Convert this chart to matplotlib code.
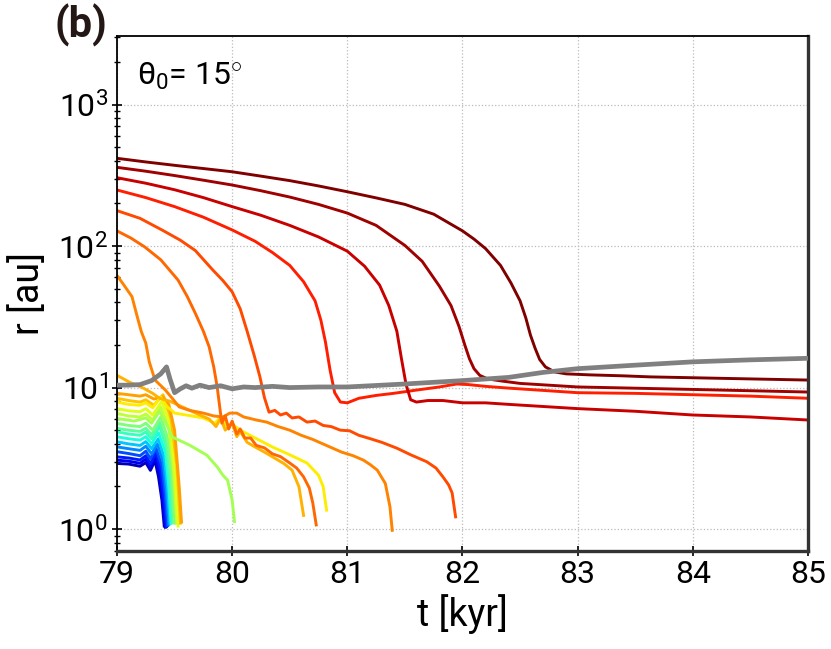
import matplotlib

matplotlib.use("Agg")
import matplotlib.pyplot as plt
import numpy as np

plt.rcParams["font.family"] = ["Roboto", "DejaVu Sans"]
plt.rcParams["mathtext.fontset"] = "custom"
plt.rcParams["mathtext.rm"] = "Roboto"
plt.rcParams["mathtext.it"] = "Roboto"
plt.rcParams["mathtext.bf"] = "Roboto:bold"
plt.rc("xtick", labelsize=23)
plt.rc("ytick", labelsize=23)

# ---- data: r(t) of the fragments, t in kyr, r in au ----
t_gray = [79.0, 79.1, 79.2, 79.3, 79.38, 79.43, 79.46, 79.5, 79.55, 79.6, 79.65, 79.72, 79.8,
          79.9, 80.0, 80.1, 80.2, 80.35, 80.5, 80.75, 81.0, 81.5, 82.0, 82.4, 82.7, 83.0,
          83.5, 84.0, 84.5, 85.0]
r_gray = [10.4, 10.4, 10.5, 11.2, 12.5, 14.0, 11.5, 9.2, 9.8, 10.3, 9.9, 10.4, 10.0, 10.3,
          9.8, 10.1, 10.0, 10.2, 10.0, 10.1, 10.1, 10.6, 11.2, 11.8, 12.8, 13.6, 14.4, 15.2,
          15.7, 16.1]

t_L1 = [79.0, 79.25, 79.5, 79.75, 80.0, 80.25, 80.5, 80.75, 81.0, 81.25, 81.5, 81.75, 82.0,
        82.1, 82.2, 82.33, 82.42, 82.5, 82.55, 82.59, 82.63, 82.67, 82.72, 82.8, 82.9, 83.1,
        83.4, 83.63, 84.3, 85.0]
r_L1 = [417, 393, 372, 353, 335, 312, 290, 266, 242, 219, 197, 168, 128, 112, 96, 73, 55, 41,
        31, 23.5, 19, 15.8, 14.0, 12.9, 12.5, 12.3, 12.1, 11.9, 11.6, 11.3]

t_L2 = [79.0, 79.25, 79.5, 79.75, 80.0, 80.25, 80.5, 80.75, 81.0, 81.25, 81.5, 81.65, 81.8,
        81.9, 81.97, 82.02, 82.06, 82.1, 82.15, 82.22, 82.35, 82.5, 83.0, 83.5, 84.0, 84.5,
        85.0]
r_L2 = [360, 338, 315, 292, 270, 246, 222, 197, 171, 140, 101, 78, 52, 38, 27, 20, 16, 13.6,
        12.2, 11.5, 11.1, 10.7, 10.1, 9.9, 9.7, 9.5, 9.3]

t_L3 = [79.0, 79.25, 79.5, 79.75, 80.0, 80.25, 80.5, 80.75, 81.0, 81.15, 81.28, 81.36, 81.43,
        81.47, 81.51, 81.55, 81.6, 81.7, 81.83, 82.0, 82.2, 82.41, 83.0, 83.5, 84.0, 84.5,
        85.0]
r_L3 = [304, 278, 250, 220, 190, 165, 140, 116, 92, 72, 53, 38, 25, 16, 10.5, 8.2, 7.9, 8.1,
        8.1, 7.8, 7.8, 7.6, 7.1, 6.8, 6.4, 6.2, 5.9]

t_L4 = [79.0, 79.25, 79.5, 79.75, 80.0, 80.2, 80.35, 80.5, 80.62, 80.72, 80.77, 80.81, 80.85,
        80.89, 80.94, 81.0, 81.1, 81.25, 81.4, 81.6, 81.8, 81.95, 82.05, 82.2, 82.41, 83.0,
        83.5, 84.0, 84.5, 85.0]
r_L4 = [249, 220, 190, 160, 130, 108, 90, 73, 56, 41, 30, 21, 13.3, 9.2, 7.9, 7.8, 8.4, 8.8,
        9.1, 9.6, 10.1, 10.6, 10.5, 10.2, 9.9, 9.2, 9.1, 8.9, 8.7, 8.4]

t_L5 = [79.0, 79.2, 79.39, 79.55, 79.68, 79.83, 79.92, 80.0, 80.07, 80.13, 80.19, 80.24, 80.28,
        80.32, 80.37, 80.42, 80.47, 80.52, 80.58, 80.65, 80.72, 80.79, 80.86, 80.94, 81.02,
        81.1, 81.2, 81.3, 81.43, 81.55, 81.69, 81.77, 81.83, 81.88, 81.91, 81.94]
r_L5 = [178, 157, 130, 110, 93, 68, 57, 47.5, 36, 25, 17, 12, 8.5, 6.7, 6.9, 6.4, 6.6, 6.1,
        6.2, 5.7, 5.8, 5.4, 5.3, 5.0, 4.95, 4.6, 4.35, 4.1, 3.73, 3.35, 2.99, 2.7, 2.34, 2.05,
        1.8, 1.22]

t_L6 = [79.0, 79.12, 79.24, 79.38, 79.53, 79.61, 79.68, 79.75, 79.8, 79.84, 79.87, 79.89,
        79.91, 79.94, 79.97, 80.0, 80.04, 80.07, 80.11, 80.16, 80.21, 80.28, 80.35, 80.42,
        80.5, 80.56, 80.62, 80.67, 80.7, 80.73]
r_L6 = [128, 114, 98.7, 80, 57.5, 44, 33.5, 25, 19.4, 14, 10.1, 7.5, 5.6, 6.3, 5.1, 5.8, 4.7,
        5.1, 4.4, 4.4, 3.9, 3.75, 3.4, 3.25, 2.93, 2.7, 2.34, 1.95, 1.53, 1.07]

t_L7 = [79.0, 79.06, 79.13, 79.17, 79.21, 79.25, 79.28, 79.33, 79.42, 79.49, 79.54, 79.63,
        79.75, 79.84, 79.92, 79.98, 80.04, 80.1, 80.21, 80.3, 80.4, 80.5, 80.6, 80.7, 80.85,
        80.95, 81.05, 81.14, 81.2, 81.26, 81.33, 81.37, 81.39]
r_L7 = [62, 53, 43.9, 33, 25, 20.6, 15.2, 11.3, 9.6, 8.2, 7.3, 6.9, 6.6, 6.3, 6.2, 6.6, 6.6,
        6.2, 5.9, 5.7, 5.3, 5.0, 4.6, 4.3, 3.8, 3.5, 3.3, 3.07, 2.85, 2.61, 2.1, 1.44, 0.98]

t_L8 = [79.0, 79.11, 79.23, 79.31, 79.37, 79.46, 79.52, 79.6, 79.7, 79.8, 79.86, 79.9, 79.94,
        80.0, 80.04, 80.07, 80.13, 80.2, 80.28, 80.35, 80.45, 80.52, 80.58, 80.62]
r_L8 = [12.2, 10.9, 9.9, 9.1, 8.4, 8.0, 7.6, 7.1, 6.5, 6.0, 5.3, 6.1, 5.0, 5.6, 4.5, 4.9, 4.1,
        3.8, 3.5, 3.24, 2.9, 2.61, 1.99, 1.25]

t_yel = [79.0, 79.1, 79.2, 79.25, 79.31, 79.38, 79.43, 79.5, 79.6, 79.75, 79.85, 79.9, 79.95,
         80.0, 80.07, 80.2, 80.35, 80.5, 80.65, 80.75, 80.79, 80.82]
r_yel = [7.9, 7.6, 7.5, 7.8, 7.2, 8.6, 7.4, 6.6, 6.4, 6.1, 5.6, 6.2, 5.4, 5.5, 5.0, 4.4, 3.8,
         3.35, 2.93, 2.4, 2.0, 1.36]

t_lime = [79.0, 79.15, 79.25, 79.3, 79.37, 79.43, 79.48, 79.63, 79.78, 79.87, 79.92, 79.96,
          80.0, 80.02]
r_lime = [6.05, 5.8, 6.1, 5.6, 6.8, 5.5, 4.47, 3.92, 3.33, 2.75, 2.4, 2.22, 1.6, 1.13]

# short-lived inner fragments (innermost first)
t_in = [
    [79.0, 79.1, 79.2, 79.25, 79.29, 79.33, 79.36, 79.39, 79.41],
    [79.0, 79.1, 79.2, 79.25, 79.29, 79.33, 79.37, 79.40, 79.42],
    [79.0, 79.1, 79.2, 79.25, 79.29, 79.34, 79.38, 79.41, 79.43],
    [79.0, 79.1, 79.2, 79.25, 79.29, 79.34, 79.39, 79.42, 79.44],
    [79.0, 79.1, 79.2, 79.25, 79.30, 79.35, 79.40, 79.43, 79.45],
    [79.0, 79.1, 79.2, 79.25, 79.30, 79.36, 79.41, 79.44, 79.46],
    [79.0, 79.1, 79.2, 79.25, 79.30, 79.36, 79.42, 79.45, 79.47],
    [79.0, 79.1, 79.2, 79.25, 79.30, 79.37, 79.43, 79.46, 79.48],
    [79.0, 79.1, 79.2, 79.25, 79.30, 79.37, 79.43, 79.47, 79.49],
    [79.0, 79.1, 79.2, 79.25, 79.31, 79.38, 79.44, 79.48, 79.50],
    [79.0, 79.1, 79.2, 79.25, 79.31, 79.38, 79.45, 79.49, 79.52],
    [79.0, 79.1, 79.2, 79.25, 79.31, 79.39, 79.46, 79.50, 79.53],
    [79.0, 79.1, 79.2, 79.25, 79.32, 79.40, 79.47, 79.52, 79.55],
    [79.0, 79.1, 79.2, 79.25, 79.32, 79.40, 79.45, 79.50, 79.54, 79.56],
]
r_in = [
    [2.91, 2.88, 2.78, 2.95, 2.6, 3.05, 2.35, 1.6, 1.05],
    [3.07, 3.02, 2.92, 3.12, 2.72, 3.25, 2.45, 1.55, 1.03],
    [3.24, 3.18, 3.08, 3.3, 2.9, 3.45, 2.6, 1.6, 1.04],
    [3.52, 3.42, 3.3, 3.55, 3.15, 3.7, 2.8, 1.7, 1.06],
    [3.81, 3.7, 3.6, 3.85, 3.4, 4.0, 3.0, 1.8, 1.08],
    [4.14, 4.0, 3.9, 4.15, 3.7, 4.35, 3.2, 1.9, 1.1],
    [4.49, 4.35, 4.25, 4.5, 4.0, 4.8, 3.5, 2.0, 1.1],
    [4.87, 4.7, 4.6, 4.85, 4.35, 5.3, 3.8, 2.1, 1.12],
    [5.15, 5.0, 4.9, 5.15, 4.65, 5.7, 4.1, 2.2, 1.12],
    [5.58, 5.4, 5.3, 5.6, 5.0, 6.2, 4.4, 2.3, 1.1],
    [6.56, 6.3, 6.2, 6.5, 5.9, 7.3, 5.2, 2.6, 1.1],
    [7.1, 6.85, 6.75, 7.1, 6.4, 8.0, 5.6, 2.7, 1.05],
    [8.4, 8.1, 7.9, 8.2, 7.5, 8.9, 6.0, 2.8, 1.1],
    [9.1, 8.9, 8.7, 8.9, 8.3, 8.6, 7.6, 5.0, 2.0, 1.12],
]

# ---- style ----
c_in = [0.05, 0.10, 0.15, 0.20, 0.26, 0.32, 0.38, 0.42, 0.46, 0.50, 0.58, 0.62, 0.70, 0.74]
outer = [
    (t_lime, r_lime, 0.55),
    (t_yel, r_yel, 0.66),
    (t_L8, r_L8, 0.72),
    (t_L7, r_L7, 0.77),
    (t_L6, r_L6, 0.80),
    (t_L5, r_L5, 0.83),
    (t_L4, r_L4, 0.875),
    (t_L3, r_L3, 0.935),
    (t_L2, r_L2, 0.97),
    (t_L1, r_L1, 1.0),
]

fig = plt.figure(figsize=(8.31, 6.49), dpi=100)
ax = fig.add_axes([0.1408, 0.151, 0.8315, 0.7935])
cmap = plt.cm.jet

for t, r, c in zip(t_in, r_in, c_in):
    ax.plot(t, r, color=cmap(c), lw=2.1, solid_joinstyle="round")
for t, r, c in outer:
    ax.plot(t, r, color=cmap(c), lw=2.1, solid_joinstyle="round")
ax.plot(t_gray, r_gray, color="#808080", lw=3.4, zorder=5)

ax.set_yscale("log")
ax.set_xlim(79, 85)
ax.set_ylim(0.7, 3050)
ax.set_xticks(np.arange(79, 86, 1))
ax.grid(True, which="major", color="#bbbbbb", linestyle=":", lw=0.9)
ax.tick_params(axis="both", which="major", direction="inout", length=7, width=1.2, pad=3)
ax.tick_params(axis="y", which="minor", direction="inout", length=4, width=1.0)
ax.tick_params(axis="x", which="minor", bottom=False)

for s in ["left", "top"]:
    ax.spines[s].set_color("black")
    ax.spines[s].set_linewidth(1.3)
for s in ["right", "bottom"]:
    ax.spines[s].set_color("#333333")
    ax.spines[s].set_linewidth(2.4)

ax.set_xlabel("t [kyr]", fontsize=27, labelpad=4)
ax.set_ylabel("r [au]", fontsize=27, labelpad=8)

ax.text(0.029, 0.905, r"$\mathrm{θ_0}$= 15$^{\circ}$", transform=ax.transAxes,
        fontsize=23, va="baseline")
fig.text(0.066, 0.942, "(b)", fontsize=30, fontweight="bold", color="#231815",
         va="baseline")

fig.savefig("out.png", dpi=100)
